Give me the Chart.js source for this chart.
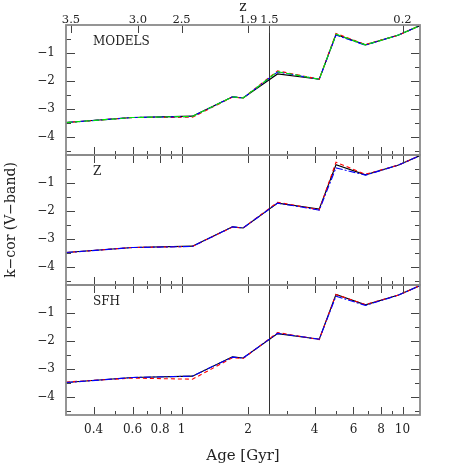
<!DOCTYPE html>
<html>
<head>
<meta charset="utf-8">
<script src="https://cdn.jsdelivr.net/npm/chart.js@4.4.1/dist/chart.umd.min.js"></script>
<style>
  body { margin: 0; background: #fff; }
  canvas { display: block; }
</style>
</head>
<body>
<canvas id="kcorChart" width="474" height="474"></canvas>
<script>
// ages (Gyr) of the model points, shared by every curve
const ages = [0.3, 0.6, 1.12, 1.7, 1.9, 2.72, 4.2, 5.0, 6.8, 9.6, 12.0];

// panel 1: MODELS
const modelsBlack = [-3.49, -3.31, -3.26, -2.57, -2.61, -1.75, -1.94, -0.34, -0.71, -0.36, -0.02];
const modelsRed   = [-3.49, -3.31, -3.30, -2.58, -2.61, -1.64, -1.94, -0.30, -0.70, -0.36, -0.02];
const modelsBlue  = [-3.49, -3.31, -3.27, -2.57, -2.61, -1.68, -1.94, -0.36, -0.72, -0.36, -0.02];
const modelsGreen = [-3.49, -3.31, -3.27, -2.57, -2.61, -1.67, -1.94, -0.33, -0.71, -0.36, -0.02];

// panel 2: Z
const zBlack = [-3.49, -3.31, -3.26, -2.57, -2.61, -1.72, -1.93, -0.35, -0.71, -0.36, -0.02];
const zRed   = [-3.49, -3.31, -3.27, -2.58, -2.61, -1.69, -1.96, -0.26, -0.69, -0.36, -0.02];
const zBlue  = [-3.49, -3.31, -3.27, -2.57, -2.61, -1.72, -1.97, -0.46, -0.72, -0.36, -0.02];

// panel 3: SFH
const sfhBlack = [-3.49, -3.31, -3.26, -2.57, -2.61, -1.74, -1.94, -0.34, -0.71, -0.36, -0.02];
const sfhRed   = [-3.47, -3.33, -3.37, -2.60, -2.63, -1.70, -1.95, -0.34, -0.70, -0.36, -0.02];
const sfhBlue  = [-3.49, -3.31, -3.26, -2.58, -2.61, -1.73, -1.94, -0.40, -0.73, -0.36, -0.02];

const panelNames = ['MODELS', 'Z', 'SFH'];

// axis ticks
const ageLabelTicks = [0.4, 0.6, 0.8, 1, 2, 4, 6, 8, 10];
const ageMinorTicks = [0.5, 0.7, 0.9, 3, 5, 7, 9];
const zTickAges = [0.316, 0.634, 1.0, 2.0, 2.5, 10];
const zTickLabels = ['3.5', '3.0', '2.5', '1.9', '1.5', '0.2'];
const kTickValues = [-4, -3, -2, -1];
const kMinorTicks = [-4.5, -3.5, -2.5, -1.5, -0.5];
const ageMin = 0.3, ageMax = 12;
const kMin = -4.65, kMax = 0;
const markerAge = 2.5; // vertical line (z = 1.5)

Chart.defaults.font.family = "'DejaVu Serif', serif";
Chart.defaults.color = '#222';

function pts(vals) {
    return vals.map((v, i) => ({ x: ages[i], y: v }));
}

function curve(vals, color, dash, axis, order) {
    return {
        data: pts(vals),
        borderColor: color,
        borderWidth: 1.1,
        borderDash: dash,
        pointRadius: 0,
        tension: 0,
        fill: false,
        xAxisID: 'x',
        yAxisID: axis,
        order: order
    };
}

function panelAxis(showTitle) {
    return {
        type: 'linear',
        position: 'left',
        stack: 'panels',
        stackWeight: 1,
        min: kMin,
        max: kMax,
        grid: { display: false, drawTicks: false },
        border: { display: false },
        afterBuildTicks: axis => { axis.ticks = kTickValues.map(v => ({ value: v })); },
        afterFit: axis => { axis.width = 66; },
        ticks: { padding: 11, font: { size: 12 }, callback: v => '\u2212' + Math.abs(v) },
        title: { display: showTitle, text: 'k\u2212cor (V\u2212band)', font: { size: 14 }, padding: { top: 3, bottom: 0 } }
    };
}

// frame, inward ticks, marker line and panel names
const framePlugin = {
    id: 'frame',
    beforeDatasetsDraw(chart) {
        const ctx = chart.ctx;
        const x = chart.scales.x;
        const px = Math.round(x.getPixelForValue(markerAge)) + 0.5;
        ctx.save();
        ctx.strokeStyle = '#333';
        ctx.lineWidth = 1;
        ctx.beginPath();
        ctx.moveTo(px, chart.chartArea.top);
        ctx.lineTo(px, chart.chartArea.bottom);
        ctx.stroke();
        ctx.restore();
    },
    afterDraw(chart) {
        const ctx = chart.ctx;
        const x = chart.scales.x;
        const panels = [chart.scales.y1, chart.scales.y2, chart.scales.y3];
        ctx.save();
        ctx.strokeStyle = '#444';
        ctx.lineWidth = 1;
        const seg = (x0, y0, x1, y1) => { ctx.moveTo(x0, y0); ctx.lineTo(x1, y1); };
        ctx.beginPath();
        panels.forEach((y, i) => {
            kTickValues.forEach(v => {
                const py = Math.round(y.getPixelForValue(v)) + 0.5;
                seg(x.left, py, x.left + 9, py);
                seg(x.right, py, x.right - 9, py);
            });
            kMinorTicks.forEach(v => {
                const py = Math.round(y.getPixelForValue(v)) + 0.5;
                seg(x.left, py, x.left + 5, py);
                seg(x.right, py, x.right - 5, py);
            });
            ageLabelTicks.forEach(v => {
                const p = Math.round(x.getPixelForValue(v)) + 0.5;
                seg(p, y.bottom, p, y.bottom - 8);
                if (i > 0) seg(p, y.top, p, y.top + 8);
            });
            ageMinorTicks.forEach(v => {
                const p = Math.round(x.getPixelForValue(v)) + 0.5;
                seg(p, y.bottom, p, y.bottom - 4);
                if (i > 0) seg(p, y.top, p, y.top + 4);
            });
        });
        zTickAges.forEach(v => {
            const p = Math.round(x.getPixelForValue(v)) + 0.5;
            seg(p, panels[0].top, p, panels[0].top + 8);
        });
        ctx.stroke();

        ctx.strokeStyle = '#8a8a8a';
        ctx.lineWidth = 1.8;
        panels.forEach(y => ctx.strokeRect(x.left, y.top, x.right - x.left, y.bottom - y.top));

        ctx.fillStyle = '#222';
        ctx.font = "12px 'DejaVu Serif', serif";
        ctx.textBaseline = 'alphabetic';
        panels.forEach((y, i) => ctx.fillText(panelNames[i], x.left + 27, y.top + 20));
        ctx.restore();
    }
};

const ctx = document.getElementById('kcorChart');
new Chart(ctx, {
    type: 'line',
    data: {
        datasets: [
            curve(modelsBlack, '#000000', [], 'y1', 4),
            curve(modelsRed, '#ff0000', [4, 3], 'y1', 3),
            curve(modelsBlue, '#0000ff', [7, 2, 2, 2], 'y1', 2),
            curve(modelsGreen, '#00ee00', [6, 3], 'y1', 1),
            curve(zBlack, '#000000', [], 'y2', 4),
            curve(zRed, '#ff0000', [4, 3], 'y2', 3),
            curve(zBlue, '#0000ff', [7, 2, 2, 2], 'y2', 2),
            curve(sfhBlack, '#000000', [], 'y3', 4),
            curve(sfhRed, '#ff0000', [4, 3], 'y3', 3),
            curve(sfhBlue, '#0000ff', [7, 2, 2, 2], 'y3', 2)
        ]
    },
    options: {
        responsive: false,
        animation: false,
        layout: { padding: { left: 0, right: 54, top: 0, bottom: 0 } },
        plugins: { legend: { display: false }, tooltip: { enabled: false } },
        scales: {
            x: {
                type: 'logarithmic',
                position: 'bottom',
                min: ageMin,
                max: ageMax,
                grid: { display: false, drawTicks: false },
                border: { display: false },
                afterBuildTicks: axis => { axis.ticks = ageLabelTicks.map(v => ({ value: v })); },
                afterFit: axis => { axis.height = 59; },
                ticks: { autoSkip: false, maxRotation: 0, padding: 8, font: { size: 12 }, callback: v => String(v) },
                title: { display: true, text: 'Age [Gyr]', font: { size: 15 }, padding: { top: 0, bottom: 9 } }
            },
            x2: {
                type: 'logarithmic',
                position: 'top',
                min: ageMin,
                max: ageMax,
                grid: { display: false, drawTicks: false },
                border: { display: false },
                afterBuildTicks: axis => { axis.ticks = zTickAges.map(v => ({ value: v })); },
                afterFit: axis => { axis.height = 25; },
                ticks: { autoSkip: false, maxRotation: 0, padding: -2, font: { size: 11.5 }, callback: (v, i) => zTickLabels[i] },
                title: { display: true, text: 'z', font: { size: 14 }, padding: { top: -1, bottom: 0 } }
            },
            // stacked panels: the first one listed ends up at the bottom
            y3: panelAxis(false),
            y2: panelAxis(true),
            y1: panelAxis(false)
        }
    },
    plugins: [framePlugin]
});
</script>
</body>
</html>
